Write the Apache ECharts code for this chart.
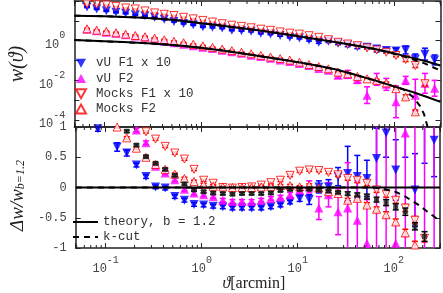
<!DOCTYPE html>
<html><head><meta charset="utf-8">
<script src="https://cdn.jsdelivr.net/npm/echarts@6/dist/echarts.min.js"></script>
<style>html,body{margin:0;padding:0;background:#fff}#c{width:443px;height:293px}</style>
</head><body><div id="c"></div>
<script>
// ---------- data ----------
const theta = [0.0661,0.0832,0.1047,0.1318,0.166,0.209,0.263,0.331,0.417,0.525,0.661,0.832,1.047,1.318,1.66,2.09,2.63,3.31,4.17,5.25,6.61,8.32,10.47,13.18,16.6,20.9,26.3,33.1,41.7,52.5,66.1,83.2,104.7,131.8,166,209,263];
// top panel w(theta)
const vuF1x10 = [50,40,32,27,24,20,18,15,12,9.3,7.4,6.3,5.0,4.7,4.3,3.4,3.2,2.95,2.35,2.15,1.8,1.48,1.35,1.07,0.83,0.93,0.74,0.63,0.50,0.47,0.38,0.32,0.30,0.34,0.12,0.21,0.107];
const vuF2 = [3.8,3.16,2.69,2.4,2.0,1.7,1.51,1.26,0.93,0.79,0.66,0.56,0.47,0.40,0.33,0.28,0.234,0.186,0.158,0.132,0.105,0.089,0.071,0.056,0.040,0.032,0.018,0.020,0.0112,0.0018,0.0112,0.0063,0.00083,0.010,0.0018,0.0071,0.004];
const mocksF1x10 = [70.8,67.6,63.1,53.7,44.7,39.8,31.6,25.1,21.4,18.6,15.1,12.6,10.5,8.7,7.2,6.0,5.25,4.47,3.8,3.31,2.75,2.4,2.14,1.78,1.48,1.12,0.83,0.68,0.56,0.43,0.34,0.26,0.178,0.112,0.056,0.0068,null];
const mocksF2 = [3.98,3.39,2.95,2.51,2.14,1.82,1.58,1.35,1.12,0.93,0.79,0.66,0.55,0.457,0.38,0.316,0.263,0.219,0.182,0.151,0.126,0.105,0.083,0.063,0.050,0.038,0.026,0.0214,0.0158,0.012,0.010,0.0074,0.0038,0.00148,0.00026,null,null];
// top panel errors (dex)
const vuF1x10Err = [0.03,0.03,0.03,0.03,0.03,0.03,0.03,0.03,0.03,0.03,0.03,0.03,0.03,0.03,0.03,0.03,0.03,0.03,0.03,0.03,0.03,0.03,0.04,0.05,0.05,0.06,0.07,0.1,0.1,0.1,0.15,0.12,0.15,0.2,0.25,0.3,0.25];
const vuF2Err = [0.03,0.03,0.03,0.03,0.03,0.03,0.03,0.03,0.03,0.03,0.03,0.03,0.03,0.03,0.03,0.03,0.03,0.03,0.03,0.03,0.03,0.04,0.05,0.06,0.08,0.08,0.15,0.2,0.2,0.42,0.3,0.3,0.8,0.2,0.8,0.5,0.4];
const mocksErr = [0.02,0.02,0.02,0.02,0.02,0.02,0.02,0.02,0.02,0.02,0.02,0.02,0.02,0.02,0.02,0.02,0.02,0.02,0.02,0.02,0.02,0.02,0.02,0.02,0.02,0.02,0.02,0.02,0.03,0.04,0.05,0.05,0.06,0.1,0.1,0.12,0.12];
// theory curves
const thTheta = [0.049,0.1,0.158,0.251,0.398,0.631,1,1.585,2.512,3.981,6.31,10,15.85,25.12,39.81,63.1,100,158.5,223.9,302];
const thF1x10 = [18.2,17.0,15.8,14.5,12.3,10.0,7.59,5.75,4.37,3.31,2.40,1.70,1.175,0.83,0.575,0.38,0.23,0.132,0.087,0.056];
const thF2 = [1.07,0.93,0.85,0.76,0.66,0.55,0.437,0.331,0.24,0.17,0.12,0.083,0.056,0.035,0.019,0.010,0.005,0.0025,0.0014,0.00083];
const thZero = [0,0,0,0,0,0,0,0,0,0,0,0,0,0,0,0,0,0,0,0];
const kcTheta = [0.049,0.1,0.158,0.251,0.398,0.631,1,1.585,2.512,3.981,6.31,10,15.85,25.12,39.81,63.1,100,125.9,158.5,186.2,204.2,223.9,302];
const kcF1x10 = [18.2,17.0,15.8,14.5,12.3,10.0,7.59,5.75,4.37,3.31,2.40,1.70,1.175,0.83,0.575,0.38,0.22,0.16,0.112,0.085,0.074,0.06,0.031];
const kcF2 = [1.07,0.93,0.85,0.76,0.66,0.55,0.437,0.331,0.24,0.17,0.12,0.083,0.056,0.035,0.019,0.010,0.005,0.0034,0.0014,0.0005,0.0002,0.00004,null];
const kcDelta = [0,0,0,0,0,0,0,0,0,0,0,0,0,0,0,0,-0.06,-0.13,-0.23,-0.3,-0.35,-0.4,-0.55];
// bottom panel Delta w / w
const vuF1D = [null,0.97,null,0.67,0.57,0.37,0.18,0.01,-0.01,-0.15,-0.21,-0.28,-0.29,-0.31,-0.32,-0.34,-0.34,-0.34,-0.34,-0.32,-0.29,-0.24,-0.18,-0.2,0.01,0.01,0.18,0.23,0.18,0.15,0.48,0.9,0.29,1.3,-0.04,1.4,0.78];
const vuF2D = [null,null,null,null,null,0.95,0.74,0.35,0.24,0.13,-0.03,-0.09,-0.12,-0.15,-0.21,-0.23,-0.23,-0.23,-0.21,-0.18,-0.16,-0.12,-0.04,0.01,-0.34,-0.12,-0.4,-0.34,-0.54,-0.92,1.3,1.3,-0.92,0.9,1.3,1.3,1.3];
const mocksF1D = [null,null,null,null,null,null,0.92,0.8,0.68,0.57,0.47,0.3,0.12,0.07,0.0,-0.01,0.0,0.01,0.04,0.08,0.12,0.2,0.27,0.29,0.28,0.25,0.21,0.15,0.12,0.07,-0.04,-0.11,-0.21,-0.34,-0.54,-0.84,null];
const mocksF2D = [null,null,null,1.0,0.82,0.65,0.5,0.38,0.3,0.22,0.15,0.1,0.05,0.02,0.01,0.0,0.0,0.0,0.01,0.02,0.03,0.03,0.01,0.04,-0.01,-0.07,-0.1,-0.21,-0.18,-0.29,-0.36,-0.45,-0.57,-0.75,-0.95,null,null];
const refD = [null,null,null,null,0.93,0.70,0.51,0.40,0.30,0.20,0.06,-0.04,-0.07,-0.09,-0.1,-0.11,-0.1,-0.1,-0.1,-0.09,-0.05,-0.03,-0.03,-0.03,-0.04,-0.06,-0.08,-0.1,-0.12,-0.15,-0.2,-0.25,-0.32,-0.4,-0.64,-0.81,null];
const vuF1DErr = [0.04,0.04,0.04,0.07,0.05,0.03,0.03,0.03,0.03,0.03,0.03,0.03,0.03,0.03,0.03,0.03,0.03,0.03,0.03,0.03,0.03,0.03,0.05,0.08,0.1,0.12,0.15,0.45,0.35,0.3,0.5,0.4,0.5,0.8,0.6,1.0,0.6];
const vuF2DErr = [0.03,0.03,0.03,0.03,0.03,0.03,0.03,0.03,0.03,0.03,0.03,0.03,0.03,0.03,0.03,0.03,0.03,0.03,0.03,0.03,0.03,0.04,0.06,0.1,0.19,0.2,0.38,0.75,0.65,0.72,2.5,2.5,2.5,2.5,2.5,2.5,2.5];
const mocksDErr = [0.02,0.02,0.02,0.02,0.02,0.02,0.02,0.02,0.02,0.02,0.02,0.02,0.02,0.02,0.02,0.02,0.02,0.02,0.02,0.02,0.02,0.02,0.02,0.02,0.02,0.02,0.03,0.03,0.04,0.04,0.04,0.05,0.05,0.06,0.06,0.06,0.06];
const refDErr = [0.02,0.02,0.02,0.02,0.02,0.02,0.02,0.02,0.02,0.02,0.02,0.02,0.02,0.02,0.02,0.02,0.02,0.02,0.02,0.02,0.02,0.02,0.02,0.02,0.02,0.02,0.02,0.03,0.03,0.04,0.04,0.05,0.05,0.06,0.06,0.08,0.08];
// axis ticks
const xMinorTicks = [0.05,0.06,0.07,0.08,0.09,0.2,0.3,0.4,0.5,0.6,0.7,0.8,0.9,2,3,4,5,6,7,8,9,20,30,40,50,60,70,80,90,200,300];
const xLabelExps = [-1,0,1,2];
const yTopLabelExps = [0,-2,-4];
const names = ['vU F1 x 10','vU F2','Mocks F1 x 10','Mocks F2'];
const lineNames = ['theory, b = 1.2','k-cut'];

// ---------- helpers ----------
const MONO = 'Liberation Mono';
const SERIF = 'Liberation Serif';
const BLUE = '#0000ff', MAG = '#ff00ff', RED = '#ff0000', BLK = '#000000';
const DOWN = 'path://M0,0L10,0L5,9Z', UP = 'path://M5,0L10,9L0,9Z';
function pts(xs, ys){ const o=[]; xs.forEach((x,i)=>{ if(ys[i]!=null) o.push([x, ys[i]]); }); return o; }
function errLog(xs, ys, e){ const o=[]; xs.forEach((x,i)=>{ if(ys[i]!=null) o.push([x, ys[i]/Math.pow(10,e[i]), ys[i]*Math.pow(10,e[i])]); }); return o; }
function errLin(xs, ys, s){ const o=[]; xs.forEach((x,i)=>{ if(ys[i]!=null) o.push([x, ys[i]-s[i], ys[i]+s[i]]); }); return o; }
function errSeries(data, color, xi, yi, z){
  return {type:'custom', xAxisIndex:xi, yAxisIndex:yi, data:data, clip:true, silent:true, z:z,
    renderItem:function(params, api){
      const x = api.value(0);
      const p1 = api.coord([x, api.value(1)]), p2 = api.coord([x, api.value(2)]);
      const cap = 3, st = {stroke:color, lineWidth:1.5};
      return {type:'group', children:[
        {type:'line', shape:{x1:p1[0], y1:p1[1], x2:p2[0], y2:p2[1]}, style:st},
        {type:'line', shape:{x1:p1[0]-cap, y1:p1[1], x2:p1[0]+cap, y2:p1[1]}, style:st},
        {type:'line', shape:{x1:p2[0]-cap, y1:p2[1], x2:p2[0]+cap, y2:p2[1]}, style:st}
      ]};
    }};
}
function minorSeries(xi, yi, yv){
  return {type:'custom', xAxisIndex:xi, yAxisIndex:yi, silent:true, z:10,
    data: xMinorTicks.map(v=>[v, yv]),
    renderItem:function(params, api){
      const x = api.coord([api.value(0), api.value(1)])[0];
      const cs = params.coordSys, L = 3, st = {stroke:'#222', lineWidth:1};
      return {type:'group', children:[
        {type:'line', shape:{x1:x, y1:cs.y+cs.height, x2:x, y2:cs.y+cs.height-L}, style:st},
        {type:'line', shape:{x1:x, y1:cs.y, x2:x, y2:cs.y+L}, style:st}
      ]};
    }};
}
const supRich = {
  b:{fontFamily:MONO, fontSize:12, color:'#444', lineHeight:20, verticalAlign:'bottom'},
  s:{fontFamily:MONO, fontSize:10, color:'#444', lineHeight:10, verticalAlign:'top'}
};
function powLabel(v, allowed){
  const e = Math.log10(v), r = Math.round(e);
  if (Math.abs(e-r) > 1e-3 || allowed.indexOf(r) < 0) return '';
  return '{b|10}{s|' + r + '}';
}
const XMIN = 0.0488, XMAX = 302.7, YMIN = 4.467e-5, YMAX = 100;
const axLine = {show:true, onZero:false, lineStyle:{color:'#222', width:1.5}};
const axTick = {show:true, inside:true, length:5, lineStyle:{color:'#222', width:1}};
function xAx(grid, pos, showLabel){
  const a = {type:'log', logBase:10, gridIndex:grid, position:pos, min:XMIN, max:XMAX,
    axisLine:axLine, axisTick:axTick, splitLine:{show:false},
    axisLabel:{show:showLabel, margin:7, formatter:v=>powLabel(v, xLabelExps), rich:supRich}};
  if (showLabel){
    a.name = '{i|ϑ}{r|[arcmin]}'; a.nameLocation='middle'; a.nameGap=26;
    a.nameTextStyle = {padding:[0,8,0,0], rich:{i:{fontFamily:SERIF, fontStyle:'italic', fontSize:16, color:'#222'}, r:{fontFamily:SERIF, fontSize:16, color:'#222'}}};
  }
  return a;
}

const option = {
  animation:false,
  backgroundColor:'#fff',
  grid:[
    {left:58, right:2.5, top:1, height:126},
    {left:58, right:2.5, top:127, height:121}
  ],
  xAxis:[ xAx(0,'bottom',false), xAx(0,'top',false), xAx(1,'bottom',true), xAx(1,'top',false) ],
  yAxis:[
    {type:'log', logBase:10, gridIndex:0, position:'left', min:YMIN, max:YMAX,
     axisLine:axLine, axisTick:axTick, splitLine:{show:false},
     axisLabel:{margin:9, formatter:v=>powLabel(v, yTopLabelExps), rich:supRich},
     name:'w(ϑ)', nameLocation:'middle', nameGap:44, nameRotate:90,
     nameTextStyle:{fontFamily:SERIF, fontStyle:'italic', fontSize:20, color:'#222'}},
    {type:'log', logBase:10, gridIndex:0, position:'right', min:YMIN, max:YMAX,
     axisLine:axLine, axisTick:axTick, splitLine:{show:false}, axisLabel:{show:false}},
    {type:'value', gridIndex:1, position:'left', min:-1, max:1, interval:0.5,
     axisLine:axLine, axisTick:axTick, splitLine:{show:false},
     axisLabel:{margin:9, fontFamily:MONO, fontSize:12, color:'#444'},
     name:'{a|Δw/w}{s|b=1.2}', nameLocation:'middle', nameGap:43, nameRotate:90,
     nameTextStyle:{padding:[0,16,0,0], rich:{a:{fontFamily:SERIF, fontStyle:'italic', fontSize:19, color:'#222'}, s:{fontFamily:SERIF, fontStyle:'italic', fontSize:12, color:'#222', verticalAlign:'bottom', lineHeight:10}}}},
    {type:'value', gridIndex:1, position:'right', min:-1, max:1, interval:0.5,
     axisLine:axLine, axisTick:axTick, splitLine:{show:false}, axisLabel:{show:false}}
  ],
  legend:[
    {data:[{name:names[0], icon:DOWN, symbolRotate:0},{name:names[1], icon:UP, symbolRotate:0},{name:names[2], icon:DOWN, symbolRotate:0},{name:names[3], icon:UP, symbolRotate:0}],
     orient:'vertical', left:75, top:55.5, itemWidth:20, itemHeight:9, itemGap:0, padding:0, selectedMode:false, symbolKeepAspect:true,
     textStyle:{fontFamily:MONO, fontSize:12.5, color:'#333', lineHeight:15.3}},
    {data:lineNames, orient:'vertical', left:72, top:214.5, itemWidth:25, itemHeight:10, itemGap:0, padding:0, selectedMode:false,
     itemStyle:{opacity:0, color:'rgba(0,0,0,0)', borderWidth:0},
     textStyle:{fontFamily:MONO, fontSize:12.5, color:'#333', lineHeight:15}}
  ],
  series:[
    // top panel
    errSeries(errLog(theta, vuF1x10, vuF1x10Err), BLUE, 0, 0, 2),
    {name:names[0], type:'scatter', xAxisIndex:0, yAxisIndex:0, data:pts(theta, vuF1x10), symbol:'triangle', symbolRotate:180, symbolSize:9, itemStyle:{color:BLUE}, z:3},
    errSeries(errLog(theta, vuF2, vuF2Err), MAG, 0, 0, 2),
    {name:names[1], type:'scatter', xAxisIndex:0, yAxisIndex:0, data:pts(theta, vuF2), symbol:'triangle', symbolSize:9, itemStyle:{color:MAG}, z:3},
    errSeries(errLog(theta, mocksF1x10, mocksErr), RED, 0, 0, 4),
    {name:names[2], type:'scatter', xAxisIndex:0, yAxisIndex:0, data:pts(theta, mocksF1x10), symbol:'triangle', symbolRotate:180, symbolSize:8, itemStyle:{color:'#fff', borderColor:RED, borderWidth:1}, z:4},
    errSeries(errLog(theta, mocksF2, mocksErr), RED, 0, 0, 4),
    {name:names[3], type:'scatter', xAxisIndex:0, yAxisIndex:0, data:pts(theta, mocksF2), symbol:'triangle', symbolSize:8, itemStyle:{color:'#fff', borderColor:RED, borderWidth:1}, z:4},
    {name:lineNames[0], type:'line', xAxisIndex:0, yAxisIndex:0, data:pts(thTheta, thF1x10), symbol:'none', itemStyle:{color:BLK}, lineStyle:{color:BLK, width:2}, z:6},
    {name:lineNames[0], type:'line', xAxisIndex:0, yAxisIndex:0, data:pts(thTheta, thF2), symbol:'none', itemStyle:{color:BLK}, lineStyle:{color:BLK, width:2}, z:6},
    {name:lineNames[1], type:'line', xAxisIndex:0, yAxisIndex:0, data:pts(kcTheta, kcF1x10), symbol:'none', itemStyle:{color:BLK}, lineStyle:{color:BLK, width:2, type:[6,5]}, z:6},
    {name:lineNames[1], type:'line', xAxisIndex:0, yAxisIndex:0, data:pts(kcTheta, kcF2), symbol:'none', itemStyle:{color:BLK}, lineStyle:{color:BLK, width:2, type:[6,5]}, z:6},
    // bottom panel
    errSeries(errLin(theta, vuF1D, vuF1DErr), BLUE, 2, 2, 2),
    {name:names[0], type:'scatter', xAxisIndex:2, yAxisIndex:2, data:pts(theta, vuF1D), symbol:'triangle', symbolRotate:180, symbolSize:9, itemStyle:{color:BLUE}, z:3},
    errSeries(errLin(theta, vuF2D, vuF2DErr), MAG, 2, 2, 2),
    {name:names[1], type:'scatter', xAxisIndex:2, yAxisIndex:2, data:pts(theta, vuF2D), symbol:'triangle', symbolSize:9, itemStyle:{color:MAG}, z:3},
    errSeries(errLin(theta, mocksF1D, mocksDErr), RED, 2, 2, 4),
    {name:names[2], type:'scatter', xAxisIndex:2, yAxisIndex:2, data:pts(theta, mocksF1D), symbol:'triangle', symbolRotate:180, symbolSize:8, itemStyle:{color:'#fff', borderColor:RED, borderWidth:1}, z:4},
    errSeries(errLin(theta, mocksF2D, mocksDErr), RED, 2, 2, 4),
    {name:names[3], type:'scatter', xAxisIndex:2, yAxisIndex:2, data:pts(theta, mocksF2D), symbol:'triangle', symbolSize:8, itemStyle:{color:'#fff', borderColor:RED, borderWidth:1}, z:4},
    errSeries(errLin(theta, refD, refDErr), BLK, 2, 2, 5),
    {name:'ref', type:'scatter', xAxisIndex:2, yAxisIndex:2, data:pts(theta, refD), symbol:'rect', symbolSize:5, itemStyle:{color:'#222'}, z:5},
    {name:lineNames[0], type:'line', xAxisIndex:2, yAxisIndex:2, data:pts(thTheta, thZero), symbol:'none', itemStyle:{color:BLK}, lineStyle:{color:BLK, width:2}, z:6},
    {name:lineNames[1], type:'line', xAxisIndex:2, yAxisIndex:2, data:pts(kcTheta, kcDelta), symbol:'none', itemStyle:{color:BLK}, lineStyle:{color:BLK, width:2, type:[6,5]}, z:6},
    // minor ticks
    minorSeries(0, 0, 1),
    minorSeries(2, 2, 0)
  ]
};
const chart = echarts.init(document.getElementById('c'));
chart.setOption(option);
</script>
</body></html>
